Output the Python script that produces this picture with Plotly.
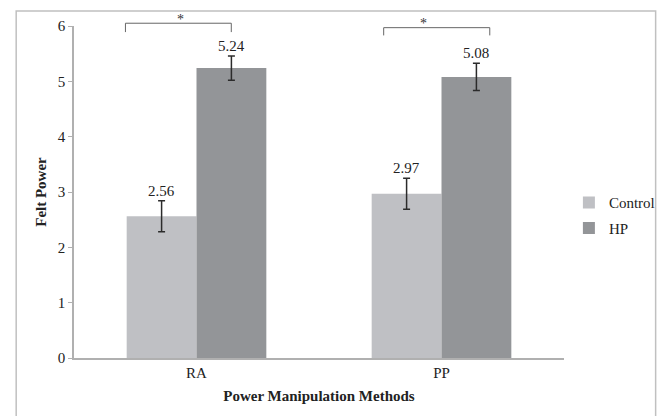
import plotly.graph_objects as go

categories = ["RA", "PP"]
series_names = ["Control", "HP"]
control_means = [2.56, 2.97]
hp_means = [5.24, 5.08]
control_err = [0.28, 0.28]
hp_err = [0.22, 0.245]
y_ticks = [0, 1, 2, 3, 4, 5, 6]
y_title = "Felt Power"
x_title = "Power Manipulation Methods"
sig_label = "*"

colors = ["#bfc0c4", "#939598"]
FONT = "Liberation Serif, Times New Roman, serif"
YMAX = 6
BARGAP = 0.43
half = (1 - BARGAP) / 4  # half of a single bar width in category units

fig = go.Figure()
for name, means, errs, col in [(series_names[0], control_means, control_err, colors[0]),
                               (series_names[1], hp_means, hp_err, colors[1])]:
    fig.add_trace(go.Bar(
        x=categories, y=means, name=name, legendgroup=name,
        marker=dict(color=col, line=dict(width=0)),
        error_y=dict(type="data", array=errs, visible=True, color="#2b2b2b",
                     thickness=1.5, width=3.5),
    ))

# value labels above error bars
for i, cat in enumerate(categories):
    for j, (means, errs) in enumerate([(control_means, control_err), (hp_means, hp_err)]):
        off = -half if j == 0 else half
        fig.add_annotation(x=i + off, y=means[i] + errs[i], xref="x", yref="y",
                           text=f"{means[i]:.2f}", showarrow=False, yanchor="bottom",
                           yshift=0, font=dict(family=FONT, size=15, color="#222"))

# significance brackets (category units, value units)
brackets = [
    # cat index, left offset, right offset, top, bottom, star x offset, star y
    (0, -0.29, 0.142, 6.05, 5.89, -0.065, 6.12),
    (1, -0.236, 0.197, 5.97, 5.83, -0.075, 6.05),
]
for idx, lo, ro, top, bot, sx, sy in brackets:
    x0, x1 = idx + lo, idx + ro
    fig.add_shape(type="path", xref="x", yref="paper",
                  path=f"M {x0},{bot/YMAX} L {x0},{top/YMAX} L {x1},{top/YMAX} L {x1},{bot/YMAX}",
                  line=dict(color="#666", width=1))
    fig.add_annotation(x=idx + sx, y=sy / YMAX, xref="x", yref="paper", text=sig_label,
                       showarrow=False, yanchor="middle",
                       font=dict(family=FONT, size=14, color="#333"))

# outer frame
fig.add_shape(type="rect", xref="paper", yref="paper", x0=-0.118, x1=1.187, y0=-0.3, y1=1.045,
              line=dict(color="#c0c0c0", width=1.5), fillcolor="rgba(0,0,0,0)")

# page body has an 8px margin: shrink the figure so the picture lines up with the window
fig.update_layout(
    width=664, height=408,
    margin=dict(l=66, r=97, t=18, b=58),
    paper_bgcolor="white", plot_bgcolor="white",
    barmode="group", bargap=BARGAP, bargroupgap=0,
    font=dict(family=FONT, size=15, color="#222"),
    showlegend=True,
    legend=dict(x=1.01, y=0.43, xanchor="left", yanchor="middle",
                font=dict(family=FONT, size=15, color="#222"),
                itemwidth=30, tracegroupgap=3, bgcolor="rgba(0,0,0,0)"),
    xaxis=dict(showline=True, linecolor="#b0b0b0", linewidth=1.5, ticks="",
               showgrid=False, automargin=False,
               tickfont=dict(family=FONT, size=15, color="#222"),
               title=dict(text=f"<b>{x_title}</b>", standoff=11,
                          font=dict(family=FONT, size=15, color="#222"))),
    yaxis=dict(range=[0, YMAX], tickvals=y_ticks, showline=True, linecolor="#b0b0b0",
               linewidth=1.5, ticks="outside", ticklen=4, tickcolor="#b0b0b0",
               showgrid=False, zeroline=False, automargin=False,
               tickfont=dict(family=FONT, size=15, color="#222"),
               title=dict(text=f"<b>{y_title}</b>", standoff=8,
                          font=dict(family=FONT, size=15, color="#222"))),
)

fig.write_html("out.html")
